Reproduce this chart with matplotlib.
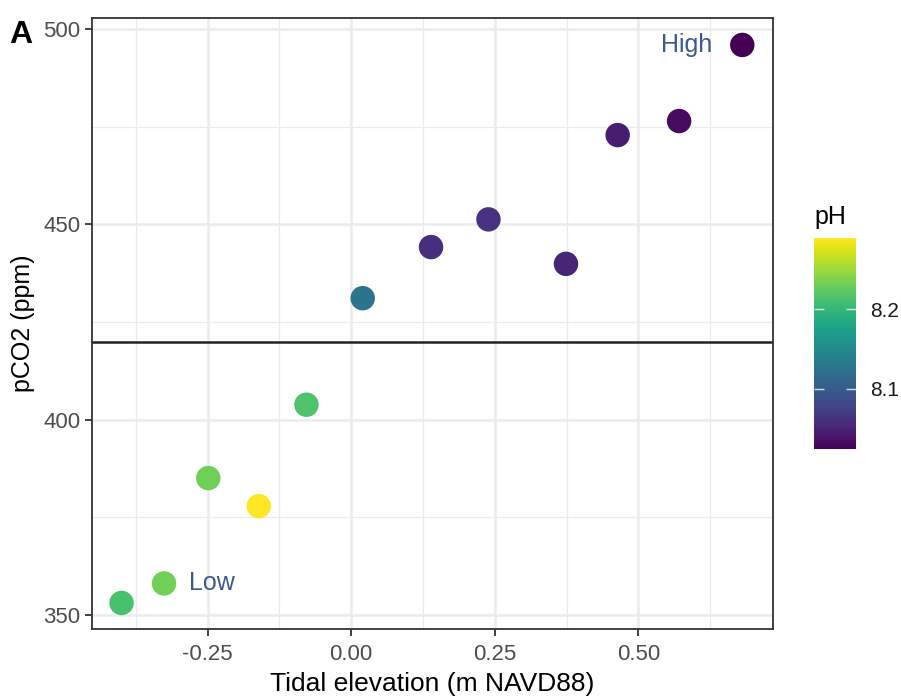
import matplotlib
matplotlib.use("Agg")
import matplotlib.pyplot as plt
import numpy as np

plt.rcParams['font.family'] = ['Liberation Sans', 'DejaVu Sans']

# tidal elevation (m NAVD88), pCO2 (ppm) and pH for each site
elevation = [-0.400, -0.326, -0.249, -0.161, -0.078, 0.020,
             0.139, 0.239, 0.374, 0.464, 0.571, 0.681]
pco2 = [353.0, 358.0, 385.0, 377.8, 403.8, 431.1,
        444.2, 451.3, 439.9, 472.9, 476.5, 496.0]
ph = [8.212, 8.232, 8.232, 8.289, 8.215, 8.125,
      8.060, 8.062, 8.052, 8.045, 8.032, 8.024]

ref_line = 420
x_ticks = [-0.25, 0.00, 0.25, 0.50]
y_ticks = [350, 400, 450, 500]
cbar_ticks = [8.1, 8.2]

fig = plt.figure(figsize=(9.01, 6.96), dpi=100)
ax = fig.add_axes([0.1024, 0.0967, 0.7552, 0.8774])

grid_col = '#ebebeb'
for v in [-0.375, -0.125, 0.125, 0.375, 0.625]:
    ax.axvline(v, color=grid_col, lw=0.9, zorder=0)
for v in x_ticks:
    ax.axvline(v, color=grid_col, lw=1.8, zorder=0)
for v in [375, 425, 475]:
    ax.axhline(v, color=grid_col, lw=0.9, zorder=0)
for v in y_ticks:
    ax.axhline(v, color=grid_col, lw=1.8, zorder=0)

ax.axhline(ref_line, color='#222222', lw=1.8, zorder=1)

sc = ax.scatter(elevation, pco2, c=ph, cmap='viridis', s=310,
                edgecolors='none', zorder=3)

ax.text(elevation[-1] - 0.053, pco2[-1], 'High', color='#3D5A8C',
        fontsize=18, ha='right', va='center')
ax.text(elevation[1] + 0.043, pco2[1], 'Low', color='#3D5A8C',
        fontsize=18, ha='left', va='center')

ax.set_xlim(-0.451, 0.734)
ax.set_ylim(346.4, 502.9)
ax.set_xticks(x_ticks)
ax.set_xticklabels(['-0.25', '0.00', '0.25', '0.50'])
ax.set_yticks(y_ticks)
ax.tick_params(labelsize=16, labelcolor='#4d4d4d', color='#333333',
               length=5, width=1.3)
ax.tick_params(axis='x', pad=6)
for s in ax.spines.values():
    s.set_color('#333333')
    s.set_linewidth(1.3)

ax.set_xlabel('Tidal elevation (m NAVD88)', fontsize=19, labelpad=5)
ax.set_ylabel('pCO2 (ppm)', fontsize=18, labelpad=6)

fig.text(0.010, 0.950, 'A', fontsize=23, fontweight='bold', ha='left', va='center')

cax = fig.add_axes([0.9038, 0.3545, 0.0466, 0.3032])
cbar = fig.colorbar(sc, cax=cax)
cbar.outline.set_visible(False)
cbar.set_ticks(cbar_ticks)
cbar.ax.yaxis.set_ticks_position('both')
cbar.ax.tick_params(direction='in', color='#dddddd', length=7, width=1,
                    labelsize=15, labelcolor='#1a1a1a', labelleft=False,
                    labelright=True, pad=10)
cbar.ax.set_title('pH', fontsize=18, pad=10, loc='left')

fig.savefig('out.png', dpi=100)
